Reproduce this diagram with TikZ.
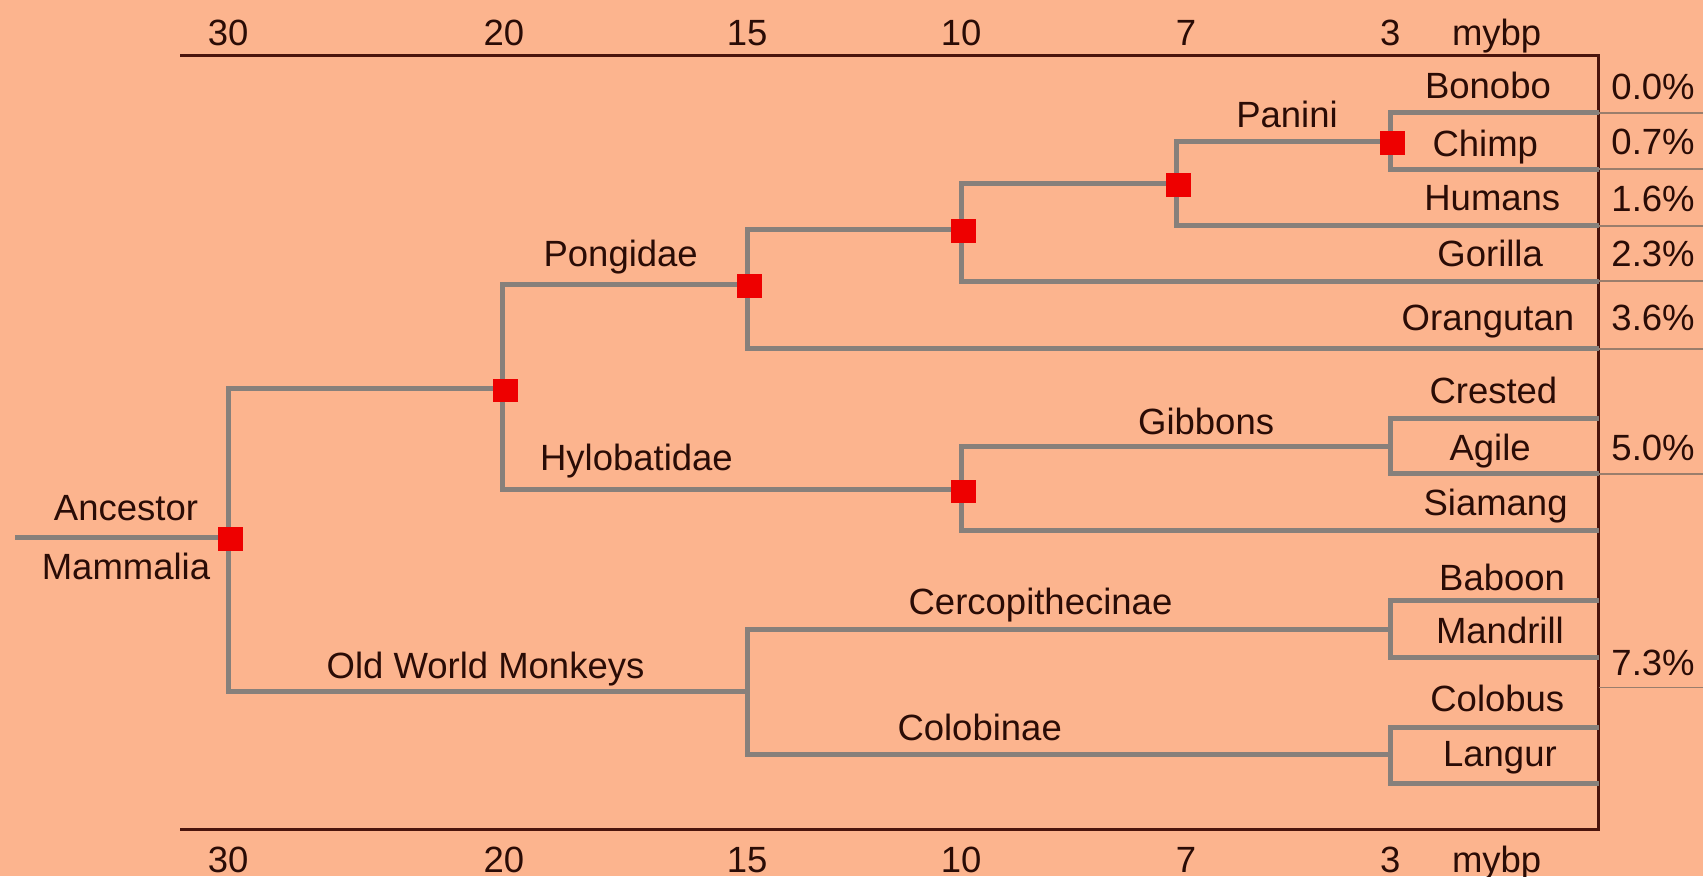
\documentclass[tikz,border=0pt]{standalone}
\usepackage{fontspec}
\setmainfont{Liberation Sans}
\definecolor{bgc}{HTML}{FCB48E}
\definecolor{branchc}{HTML}{87807B}
\definecolor{axisc}{HTML}{4A140C}
\definecolor{txtc}{HTML}{2A0C06}
\definecolor{sepc}{HTML}{9A7E6C}
\definecolor{knotc}{HTML}{EE0000}
\newcommand\lbfont{\fontsize{16.8}{18}\selectfont}
\begin{document}
\begin{tikzpicture}[x=0.5pt,y=-0.5pt,
  branch/.style={draw=branchc, line width=2.3pt},
  sepline/.style={draw=sepc, line width=0.9pt},
  axisline/.style={draw=axisc, line width=1.2pt},
  knot/.style={fill=knotc, draw=none, minimum width=11.5pt, minimum height=11pt, inner sep=0pt, xshift=1pt, yshift=-0.75pt},
  lbl/.style={font=\lbfont, text=txtc, inner sep=0pt, anchor=base}]
\fill[bgc] (0,0) rectangle (1568,807);
\useasboundingbox (0,0) rectangle (1568,807);

% axis frame
\coordinate (tl) at (166,51);
\coordinate (tr) at (1472,51);
\coordinate (br) at (1472,764);
\coordinate (bl) at (166,764);
\draw[axisline] (tl) -- (tr) -- (br) -- (bl);

% tick labels
\foreach \v/\x in {30/210, 20/464, 15/688, 10/885, 7/1092, 3/1280, mybp/1378} {
  \node[lbl] (top\v) at (\x,41.5) {\v};
  \node[lbl] (bot\v) at (\x,803) {\v};
}

% internal junctions
\coordinate (anc) at (14,495);
\coordinate (r) at (210,495);
\coordinate (n20) at (463,358);
\coordinate (n15) at (688,262);
\coordinate (n10a) at (885,211);
\coordinate (n7) at (1083,169);
\coordinate (n3a) at (1280,130);
\coordinate (hylo) at (885,451);
\coordinate (gib) at (1280,411);
\coordinate (owm) at (688,637);
\coordinate (cer) at (1280,580);
\coordinate (col) at (1280,695);

% leaf ends
\coordinate (lBon) at (1472,104);
\coordinate (lChi) at (1472,156);
\coordinate (lHum) at (1472,208);
\coordinate (lGor) at (1472,259);
\coordinate (lOra) at (1472,321);
\coordinate (lCre) at (1472,385);
\coordinate (lAgi) at (1472,436);
\coordinate (lSia) at (1472,488);
\coordinate (lBab) at (1472,553);
\coordinate (lMan) at (1472,605);
\coordinate (lCol) at (1472,670);
\coordinate (lLan) at (1472,721);

% branches
\draw[branch] (anc) -- (r);
\draw[branch] (r) |- (n20);
\draw[branch] (r) |- (owm);
\draw[branch] (n20) |- (n15);
\draw[branch] (n20) |- (hylo);
\draw[branch] (n15) |- (n10a);
\draw[branch] (n15) |- (lOra);
\draw[branch] (n10a) |- (n7);
\draw[branch] (n10a) |- (lGor);
\draw[branch] (n7) |- (n3a);
\draw[branch] (n7) |- (lHum);
\draw[branch] (n3a) |- (lBon);
\draw[branch] (n3a) |- (lChi);
\draw[branch] (hylo) |- (gib);
\draw[branch] (hylo) |- (lSia);
\draw[branch] (gib) |- (lCre);
\draw[branch] (gib) |- (lAgi);
\draw[branch] (owm) |- (cer);
\draw[branch] (owm) |- (col);
\draw[branch] (cer) |- (lBab);
\draw[branch] (cer) |- (lMan);
\draw[branch] (col) |- (lCol);
\draw[branch] (col) |- (lLan);

% percent separators
\coordinate (pBon) at (1568,104);
\coordinate (pChi) at (1568,156);
\coordinate (pHum) at (1568,208);
\coordinate (pGor) at (1568,259);
\coordinate (pOra) at (1568,321);
\coordinate (pAgi) at (1568,436);
\coordinate (s73) at (1472,633);
\coordinate (p73) at (1568,633);
\draw[sepline] (lBon) -- (pBon);
\draw[sepline] (lChi) -- (pChi);
\draw[sepline] (lHum) -- (pHum);
\draw[sepline] (lGor) -- (pGor);
\draw[sepline] (lOra) -- (pOra);
\draw[sepline] (lAgi) -- (pAgi);
\draw[sepline] (s73) -- (p73);

% red squares
\node[knot] (k30) at (r) {};
\node[knot] (k20) at (n20) {};
\node[knot] (k15) at (n15) {};
\node[knot] (k10a) at (n10a) {};
\node[knot] (k7) at (n7) {};
\node[knot] (k3a) at (n3a) {};
\node[knot] (k10b) at (hylo) {};

% clade labels
\node[lbl] (tAnc) at (116,479) {Ancestor};
\node[lbl] (tMam) at (116,534) {Mammalia};
\node[lbl] (tPon) at (571.5,245.5) {Pongidae};
\node[lbl] (tHyl) at (586,433) {Hylobatidae};
\node[lbl] (tPan) at (1185,117) {Panini};
\node[lbl] (tGib) at (1110.5,400.5) {Gibbons};
\node[lbl] (tCer) at (958,566) {Cercopithecinae};
\node[lbl] (tClb) at (902,681.5) {Colobinae};
\node[lbl] (tOwm) at (447,624.5) {Old World Monkeys};

% leaf labels
\node[lbl] (nBon) at (1370,90.5) {Bonobo};
\node[lbl] (nChi) at (1367.5,144.3) {Chimp};
\node[lbl] (nHum) at (1374,193.4) {Humans};
\node[lbl] (nGor) at (1372,245.5) {Gorilla};
\node[lbl] (nOra) at (1370,304) {Orangutan};
\node[lbl] (nCre) at (1375,371.4) {Crested};
\node[lbl] (nAgi) at (1372,423.6) {Agile};
\node[lbl] (nSia) at (1377,474.2) {Siamang};
\node[lbl] (nBab) at (1383,543.3) {Baboon};
\node[lbl] (nMan) at (1381,592.4) {Mandrill};
\node[lbl] (nCol) at (1378.6,655.3) {Colobus};
\node[lbl] (nLan) at (1381,706) {Langur};

% percentages
\node[lbl] (q00) at (1522,92) {0.0\%};
\node[lbl] (q07) at (1522,142.7) {0.7\%};
\node[lbl] (q16) at (1522,195) {1.6\%};
\node[lbl] (q23) at (1522,245.5) {2.3\%};
\node[lbl] (q36) at (1522,304) {3.6\%};
\node[lbl] (q50) at (1522,423.6) {5.0\%};
\node[lbl] (q73) at (1522,621.5) {7.3\%};
\end{tikzpicture}
\end{document}
